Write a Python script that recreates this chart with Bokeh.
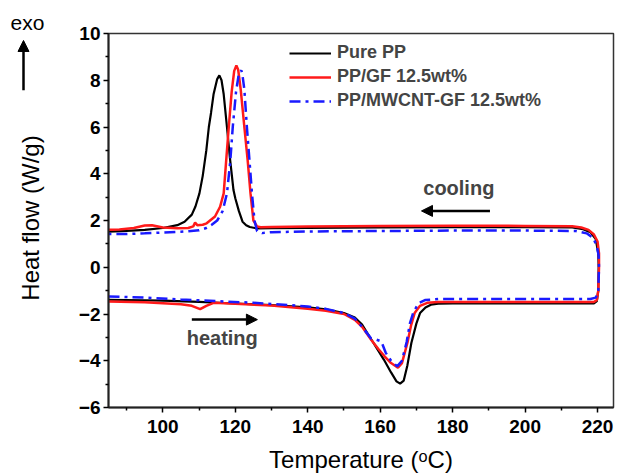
import math
from bokeh.plotting import figure
from bokeh.layouts import row
from bokeh.models import FixedTicker, Label, Arrow, NormalHead, Legend, LegendItem, Range1d
from bokeh.core.properties import value
from bokeh.embed import file_html
from bokeh.resources import INLINE

# ---------------- data ----------------
# Pure PP : heating run (85 -> 220 C) then cooling run (220 -> 85 C)
pp_heat_T = [85, 90, 100, 110, 120, 130, 140, 145, 150, 153, 155, 157, 159, 161, 163, 164.5, 165.5,
             166.5, 167.5, 168.6, 170, 171, 172.5, 174, 176, 180, 200, 215, 219, 219.8, 220.2, 220.3]
pp_heat_Q = [-1.39, -1.40, -1.43, -1.48, -1.55, -1.62, -1.72, -1.80, -1.96, -2.15, -2.45, -2.95, -3.45,
             -3.95, -4.5, -4.88, -4.98, -4.85, -4.2, -3.24, -2.4, -1.96, -1.72, -1.60, -1.56, -1.55,
             -1.55, -1.55, -1.55, -1.45, -1.0, 0.0]
pp_cool_T = [220.2, 219.5, 218, 216, 213, 200, 180, 160, 140, 130, 126, 124, 123, 122, 121, 120,
             119.5, 118.5, 117.7, 116.8, 116.2, 115.6, 115, 114, 113.3, 112.7, 112, 111, 110.1, 109,
             108, 106, 104, 100, 95, 90, 85]
pp_cool_Q = [0.6, 1.2, 1.5, 1.63, 1.70, 1.72, 1.72, 1.70, 1.68, 1.67, 1.66, 1.72, 1.8, 1.95, 2.4, 2.95,
             3.3, 4.7, 6.0, 7.4, 8.0, 8.21, 8.05, 7.4, 6.6, 6.0, 5.0, 3.9, 3.16, 2.6, 2.25, 1.95, 1.8,
             1.68, 1.6, 1.56, 1.52]

# PP/GF 12.5wt%
gf_heat_T = [85, 95, 105, 108, 110.3, 112, 114, 120, 130, 140, 145, 150, 153, 155, 157.5, 159.5, 161.2,
             163, 164.9, 166, 167.5, 168.5, 169.5, 171, 173, 176, 200, 219, 219.8, 220.2, 220.4]
gf_heat_Q = [-1.46, -1.50, -1.58, -1.65, -1.79, -1.65, -1.52, -1.56, -1.64, -1.78, -1.86, -2.0, -2.25,
             -2.55, -3.1, -3.5, -3.81, -4.1, -4.3, -4.1, -3.24, -2.5, -1.96, -1.65, -1.52, -1.49,
             -1.49, -1.49, -1.4, -1.0, 0.0]
gf_cool_T = [220.4, 220, 219, 217.5, 215.5, 213, 200, 180, 160, 140, 130, 127, 126, 125, 124.2, 123.4,
             122.5, 121.5, 120.8, 120.3, 119.7, 119, 118.2, 117.6, 116.8, 115.8, 114.4, 112.1, 111,
             109.5, 108.9, 108.4, 107, 104, 100, 97, 95, 92, 88, 85]
gf_cool_Q = [0.6, 1.1, 1.4, 1.6, 1.7, 1.75, 1.77, 1.78, 1.76, 1.74, 1.72, 1.71, 1.75, 2.0, 3.16, 4.6,
             6.0, 7.6, 8.45, 8.63, 8.4, 7.5, 6.0, 4.8, 3.16, 2.59, 2.17, 1.88, 1.82, 1.8, 1.91, 1.75,
             1.68, 1.67, 1.7, 1.8, 1.79, 1.68, 1.62, 1.6]

# PP/MWCNT-GF 12.5wt%
cnt_heat_T = [85, 95, 105, 115, 125, 135, 140, 145, 150, 153, 155, 157.5, 159, 160.3, 161.5, 163, 164.7,
              166, 167.3, 168.2, 169.1, 170.5, 172.5, 176, 200, 218, 219.5, 220.2, 220.4]
cnt_heat_Q = [-1.25, -1.30, -1.38, -1.45, -1.52, -1.62, -1.68, -1.78, -1.96, -2.2, -2.55, -3.05, -3.1,
              -3.17, -3.65, -4.0, -4.24, -4.0, -3.2, -2.4, -1.96, -1.55, -1.4, -1.36, -1.36, -1.36,
              -1.3, -1.0, 0.0]
cnt_cool_T = [220.3, 219.8, 218.8, 217, 214, 200, 180, 160, 140, 130, 127.4, 126, 125.3, 124.6, 123.9,
              123.2, 122.5, 122, 121.7, 121, 120.2, 119.3, 118.6, 117.7, 116.5, 115, 113.5, 112, 110,
              105, 95, 90, 85]
cnt_cool_Q = [0.5, 0.9, 1.25, 1.45, 1.55, 1.57, 1.57, 1.55, 1.53, 1.5, 1.46, 1.55, 2.0, 3.16, 4.6, 6.0,
              7.6, 8.2, 8.42, 8.3, 7.5, 6.0, 4.5, 3.16, 2.4, 2.0, 1.82, 1.68, 1.58, 1.52, 1.45, 1.42,
              1.42]

names = ["Pure PP", "PP/GF 12.5wt%", "PP/MWCNT-GF 12.5wt%"]
x_ticks = [100, 120, 140, 160, 180, 200, 220]
x_minor = [90, 110, 130, 150, 170, 190, 210]
y_ticks = [-6, -4, -2, 0, 2, 4, 6, 8, 10]
y_minor = [-5, -3, -1, 1, 3, 5, 7, 9]
x_title = "Temperature (ᵒC)"
y_title = "Heat flow (W/g)"
exo_text = "exo"

FONT = "Liberation Sans"
LEFT_W = 50
FRAME_TOP, FRAME_BOTTOM = 33, 408

# ---------------- narrow strip on the left: "exo" marker and y title ----------------
# its frame lines up with the main frame; its ranges are plain pixel offsets
side = figure(width=LEFT_W, height=475, output_backend="svg", toolbar_location=None,
              x_range=Range1d(0, LEFT_W), y_range=Range1d(FRAME_BOTTOM, FRAME_TOP),
              x_axis_location=None, y_axis_location=None, min_border=0)
side.grid.visible = False
side.outline_line_color = None
side.background_fill_color = "white"
side.border_fill_color = "white"
side.title.text = exo_text
side.title.text_font = FONT
side.title.text_font_style = "normal"
side.title.text_font_size = "21px"
side.title.text_color = "black"
side.title.align = "left"
side.title.offset = 10
side.title.standoff = 0
side.text(x=[30], y=[218], text=[y_title], angle=math.pi / 2, text_font=value(FONT),
          text_font_size="24px", text_align="center", text_baseline="middle", text_color="black")
side.add_layout(Arrow(x_start=23, y_start=90, x_end=23, y_end=40, line_width=2.5,
                      end=NormalHead(size=11, fill_color="black", line_color="black")))

# ---------------- main plot ----------------
p = figure(width=617 - LEFT_W, height=475, output_backend="svg", toolbar_location=None,
           x_range=Range1d(85, 224.4), y_range=Range1d(-6, 10),
           min_border_left=108 - LEFT_W, min_border_right=4, min_border_top=FRAME_TOP,
           min_border_bottom=475 - FRAME_BOTTOM)
p.background_fill_color = "white"
p.border_fill_color = "white"
p.grid.visible = False
p.outline_line_color = "#333333"
p.outline_line_width = 1.5

for ax in (p.xaxis[0], p.yaxis[0]):
    ax.major_label_text_font = FONT
    ax.major_label_text_font_style = "bold"
    ax.major_label_text_font_size = "19px"
    ax.major_label_text_color = "black"
    ax.axis_label_text_font = FONT
    ax.axis_label_text_font_style = "normal"
    ax.axis_label_text_font_size = "24px"
    ax.axis_label_text_color = "black"
    ax.axis_line_width = 2
    ax.axis_line_color = "#222222"
    ax.major_tick_line_width = 1.5
    ax.minor_tick_line_width = 1.5
    ax.major_tick_in = 0
    ax.major_tick_out = 5
    ax.minor_tick_in = 0
    ax.minor_tick_out = 3

p.xaxis[0].ticker = FixedTicker(ticks=x_ticks, minor_ticks=x_minor)
p.yaxis[0].ticker = FixedTicker(ticks=y_ticks, minor_ticks=y_minor)
p.xaxis[0].axis_label = x_title
p.xaxis[0].major_label_standoff = 7
p.xaxis[0].axis_label_standoff = 10
p.yaxis[0].major_label_standoff = 3

r1 = p.line(pp_heat_T + pp_cool_T, pp_heat_Q + pp_cool_Q, line_color="black", line_width=2.2)
r2 = p.line(gf_heat_T + gf_cool_T, gf_heat_Q + gf_cool_Q, line_color="#ff1a1a", line_width=2.5)
r3 = p.line(cnt_heat_T + cnt_cool_T, cnt_heat_Q + cnt_cool_Q, line_color="#1a1aff", line_width=2.5,
            line_dash="11 5 3 5")

legend = Legend(items=[LegendItem(label=names[0], renderers=[r1]),
                       LegendItem(label=names[1], renderers=[r2]),
                       LegendItem(label=names[2], renderers=[r3])],
                location=(181, 296), border_line_color=None, background_fill_alpha=0,
                label_text_font=FONT, label_text_font_style="bold", label_text_font_size="18px",
                glyph_width=42, glyph_height=20, label_height=20, spacing=3, padding=0, margin=0,
                label_standoff=6)
p.add_layout(legend)

# annotations inside the frame
p.add_layout(Label(x=181.7, y=3.39, text="cooling", text_font=FONT, text_font_style="bold",
                   text_font_size="20px", text_align="center", text_baseline="middle"))
p.add_layout(Label(x=116.4, y=-3.01, text="heating", text_font=FONT, text_font_style="bold",
                   text_font_size="20px", text_align="center", text_baseline="middle"))
p.add_layout(Arrow(x_start=190.3, y_start=2.41, x_end=171.4, y_end=2.41, line_width=2.5,
                   end=NormalHead(size=11, fill_color="black", line_color="black")))
p.add_layout(Arrow(x_start=108, y_start=-2.24, x_end=126.1, y_end=-2.24, line_width=2.5,
                   end=NormalHead(size=11, fill_color="black", line_color="black")))

layout = row(side, p, spacing=0)
open("out.html", "w").write(file_html(layout, INLINE))
